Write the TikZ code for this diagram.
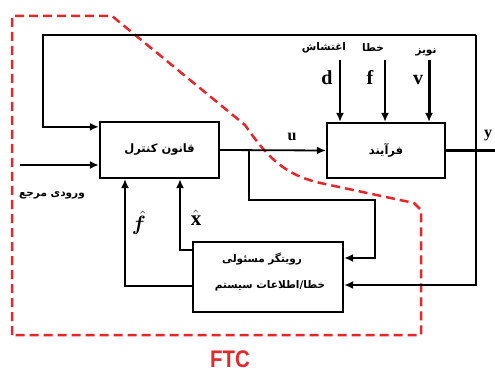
\documentclass[tikz,border=0pt]{standalone}
\usepackage{fontspec}
\usepackage{bm}
\setmainfont{Liberation Serif}
\newfontfamily\fa[Script=Arabic]{DejaVu Sans}
\newfontfamily\ftcfont{Liberation Sans}
\TeXXeTstate=1
\usetikzlibrary{arrows.meta,calc}
\definecolor{ftcred}{RGB}{232,38,42}
\begin{document}
\begin{tikzpicture}[x=1pt,y=-1pt,line width=2.3pt,
  box/.style={draw,line width=2.3pt,inner sep=0pt},
  arr/.style={-{Latex[length=9pt,width=8pt]}},
  fatext/.style={font=\fa\bfseries\fontsize{10.5}{12}\selectfont},
  sym/.style={font=\bfseries\fontsize{20}{20}\selectfont},
  ftcline/.style={draw=ftcred,line width=2.5pt,dash pattern=on 9pt off 5pt}]
\useasboundingbox (0,0) rectangle (495,374);
% FTC boundary
\draw[ftcline] (12,335) -- (12,16) -- (112,16) -- (245,125)
  .. controls (268,158) and (285,176) .. (325,184) -- (414,203) -- (421,210) -- (421,335) -- cycle;
\node[text=ftcred,font=\ftcfont\bfseries\fontsize{24}{24}\selectfont,xscale=0.85,inner sep=0pt] (ftc) at (230,359) {FTC};
% blocks
\node[box,minimum width=119pt,minimum height=56pt] (ctrl) at (159.5,150) {};
\node[fatext,font=\fa\bfseries\fontsize{11.5}{13}\selectfont] (ctrlt) at (ctrl.center) {\beginR قانون کنترل\endR};
\node[box,minimum width=118pt,minimum height=55pt] (plant) at (386,150.5) {};
\node[fatext,font=\fa\bfseries\fontsize{11.5}{13}\selectfont] (plantt) at (plant.center) {\beginR فرآیند\endR};
\node[box,minimum width=150pt,minimum height=70pt] (obs) at (268,277) {};
\node[fatext] (obs1) at (262,259) {\beginR رویتگر مسئولی\endR};
\node[fatext] (obs2) at (270,286) {\beginR خطا/اطلاعات سیستم\endR};
% coordinates
\coordinate (tl) at (43,35);
\coordinate (tr) at (476,35);
\coordinate (trb) at (476,285);
\coordinate (yend) at (495,150.5);
\coordinate (refin) at (20,165);
\coordinate (ub) at (249,150);
\coordinate (ub1) at (249,200);
\coordinate (ub2) at (375,200);
\coordinate (ub3) at (375,258);
\coordinate (xh1) at (180,250);
\coordinate (fh1) at (125,286);
\coordinate (dtop) at (340,60);
\coordinate (ftop) at (385,60);
\coordinate (vtop) at (429,60);
% connectors
\draw[arr] (tr) -- (tl) |- ($(ctrl.north west)+(0,6)$);
\draw[arr] (refin) -- (refin -| ctrl.west);
\draw (plant.east) -- (yend);
\draw[arr] (tr) -- (trb) -- (trb -| obs.east);
\draw[arr,line width=1.8pt] (ctrl.east) -- (plant.west);
\draw[arr] (ub) -- (ub1) -- (ub2) -- (ub3) -- (ub3 -| obs.east);
\draw[arr] (xh1 -| obs.west) -- (xh1) -- (xh1 |- ctrl.south);
\draw[line width=1.5pt,arr] (fh1 -| obs.west) -- (fh1) -- (fh1 |- ctrl.south);
\draw[arr] (dtop) -- (dtop |- plant.north);
\draw[arr] (ftop) -- (ftop |- plant.north);
\draw[arr,line width=3pt] (vtop) -- (vtop |- plant.north);
% labels
\node[sym] (dl) at (327,78) {d};
\node[sym] (fl) at (370,77) {f};
\node[sym] (vl) at (418,80) {v};
\node[fatext] (dfa) at (324,48) {\beginR اغتشاش\endR};
\node[fatext] (ffa) at (373,48) {\beginR خطا\endR};
\node[fatext] (vfa) at (426,52) {\beginR نویز\endR};
\node[sym,font=\bfseries\fontsize{16}{16}\selectfont] (ul) at (292,137) {u};
\node[sym,font=\bfseries\fontsize{16}{16}\selectfont] (yl) at (488,136) {y};
\node[fatext] (refl) at (52,195) {\beginR ورودی مرجع\endR};
\node[font=\fontsize{20}{20}\selectfont,inner sep=0pt] (fhl) at (139,223) {$\bm{\hat{f}}$};
\node[font=\fontsize{21}{21}\selectfont,inner sep=0pt] (xhl) at (196,218) {$\hat{\mathbf{x}}$};
\end{tikzpicture}
\end{document}
